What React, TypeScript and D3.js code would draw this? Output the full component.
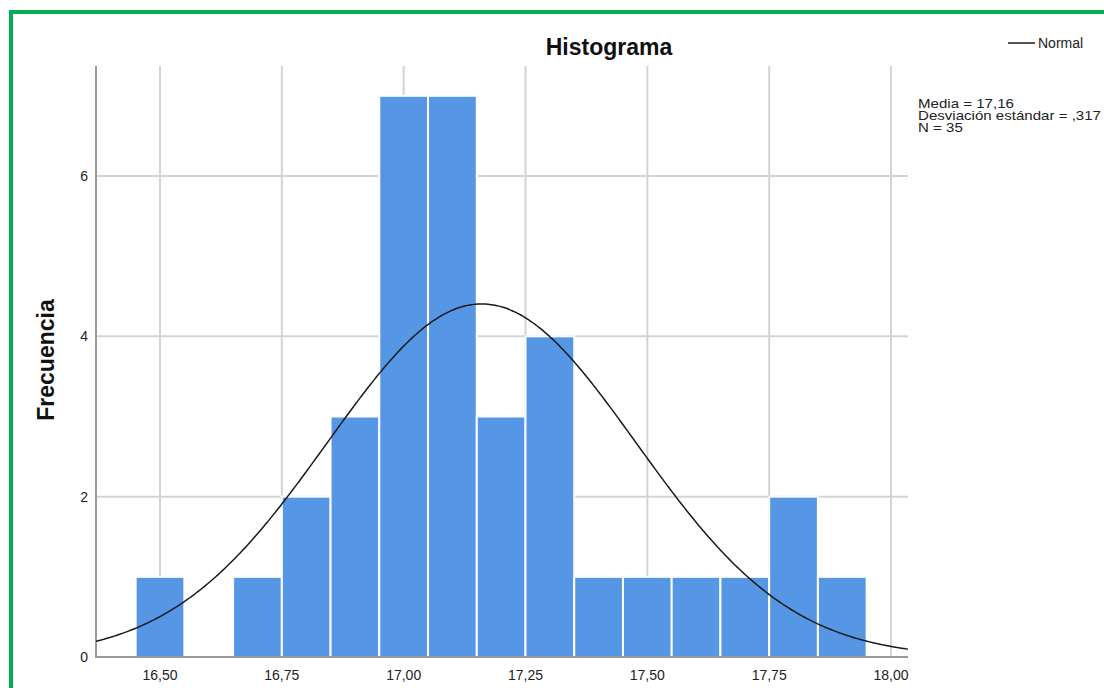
import React from "react";
import * as d3 from "d3";

const binStarts = [16.45, 16.55, 16.65, 16.75, 16.85, 16.95, 17.05, 17.15, 17.25, 17.35, 17.45, 17.55, 17.65, 17.75, 17.85];
const counts = [1, 0, 1, 2, 3, 7, 7, 3, 4, 1, 1, 1, 1, 2, 1];
const binWidth = 0.1;
const xTicks = [16.5, 16.75, 17.0, 17.25, 17.5, 17.75, 18.0];
const yTicks = [0, 2, 4, 6];
const mean = 17.16;
const sd = 0.317;
const n = 35;
const statsLines = ["Media = 17,16", "Desviación estándar = ,317", "N = 35"];

const W = 1104;
const H = 688;
const left = 96;
const right = 908;
const top = 66;
const bottom = 657;

export default function App() {
  const x = d3.scaleLinear().domain([16.5, 18.0]).range([160, 891]);
  const xDomain = [x.invert(left), x.invert(right)];
  const y = d3.scaleLinear().domain([0, 6]).range([bottom, 176]);

  const fmt = (v: number) => v.toFixed(2).replace(".", ",");

  const curvePts = d3.range(0, 401).map((i) => {
    const v = xDomain[0] + ((xDomain[1] - xDomain[0]) * i) / 400;
    const dens = (n * binWidth) / (sd * Math.sqrt(2 * Math.PI)) * Math.exp(-0.5 * ((v - mean) / sd) ** 2);
    return [v, dens] as [number, number];
  });
  const line = d3
    .line<[number, number]>()
    .x((d) => x(d[0]))
    .y((d) => y(d[1]))
    .curve(d3.curveBasis);

  const font = "'Liberation Sans', Arial, sans-serif";

  return (
    <svg
      width={W}
      height={H}
      style={{ position: "absolute", left: 0, top: 0, background: "#fff" }}
      fontFamily={font}
    >
      <rect x={0} y={0} width={W} height={H} fill="#fff" />
      {/* green frame */}
      <line x1={9} y1={12} x2={W} y2={12} stroke="#00b050" strokeWidth={4} />
      <line x1={11} y1={10} x2={11} y2={H} stroke="#00b050" strokeWidth={4} />

      {/* gridlines */}
      {xTicks.map((t) => (
        <line key={"gx" + t} x1={x(t)} x2={x(t)} y1={top} y2={bottom} stroke="#d4d4d4" strokeWidth={2} />
      ))}
      {yTicks.filter((t) => t > 0).map((t) => (
        <line key={"gy" + t} x1={left} x2={right} y1={y(t)} y2={y(t)} stroke="#d4d4d4" strokeWidth={2} />
      ))}

      {/* bars */}
      {binStarts.map((b, i) =>
        counts[i] > 0 ? (
          <rect
            key={"b" + i}
            x={x(b)}
            y={y(counts[i])}
            width={x(b + binWidth) - x(b)}
            height={y(0) - y(counts[i])}
            fill="#5597e4"
            stroke="#ffffff"
            strokeWidth={2}
          />
        ) : null
      )}

      {/* axes */}
      <line x1={left} x2={left} y1={top} y2={bottom + 1} stroke="#9a9a9a" strokeWidth={2} />
      <line x1={left} x2={right} y1={bottom} y2={bottom} stroke="#9a9a9a" strokeWidth={2} />

      {/* normal curve */}
      <path d={line(curvePts) || ""} fill="none" stroke="#1a1a1a" strokeWidth={1.5} />

      {/* tick labels */}
      {xTicks.map((t) => (
        <text key={"tx" + t} x={x(t)} y={680} textAnchor="middle" fontSize={14} fill="#222">
          {fmt(t)}
        </text>
      ))}
      {yTicks.map((t) => (
        <text key={"ty" + t} x={88} y={y(t) + 5} textAnchor="end" fontSize={14} fill="#222">
          {t}
        </text>
      ))}

      {/* titles */}
      <text x={609} y={54.5} textAnchor="middle" fontSize={23} fontWeight="bold" fill="#111">
        Histograma
      </text>
      <text
        transform={`translate(54,${360}) rotate(-90)`}
        textAnchor="middle"
        fontSize={23}
        fontWeight="bold"
        fill="#111"
      >
        Frecuencia
      </text>

      {/* legend */}
      <line x1={1008} x2={1035} y1={43} y2={43} stroke="#1a1a1a" strokeWidth={1.5} />
      <text x={1038} y={48} fontSize={14} fill="#222">
        Normal
      </text>

      <g transform="translate(918,0) scale(1.16,1)">
        {statsLines.map((s, i) => (
          <text key={"s" + i} x={0} y={108 + i * 12} fontSize={13} fill="#222">
            {s}
          </text>
        ))}
      </g>
    </svg>
  );
}
